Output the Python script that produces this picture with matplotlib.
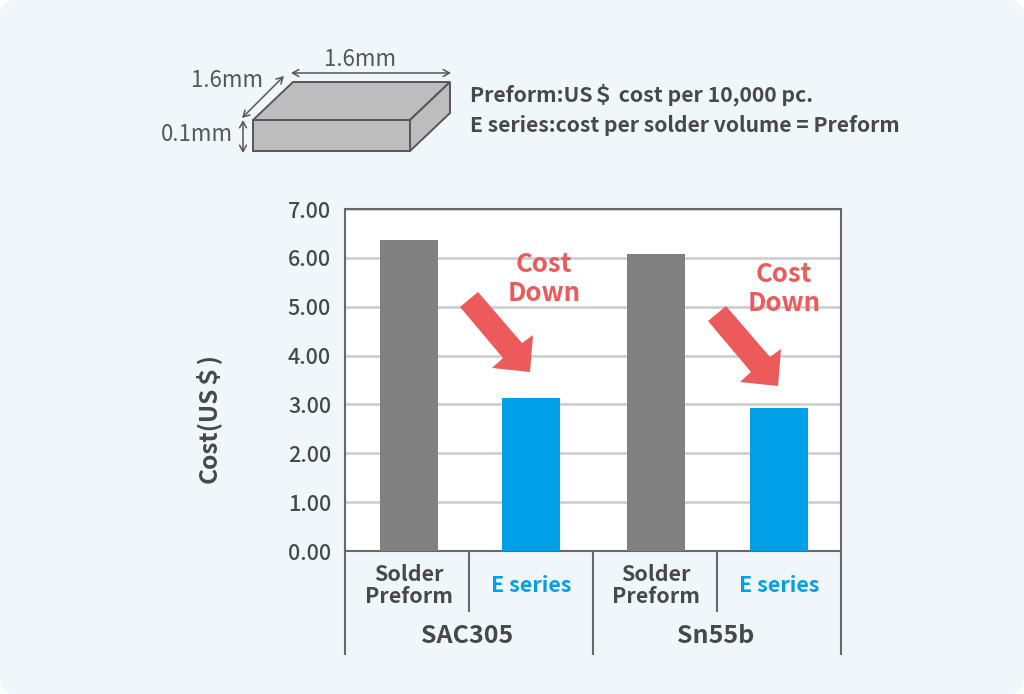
import numpy as np
import matplotlib
matplotlib.use('Agg')
import matplotlib.pyplot as plt
from matplotlib.patches import FancyBboxPatch, Polygon

plt.rcParams['font.family'] = ['Noto Sans CJK JP', 'DejaVu Sans']

# values
categories = ['Solder\nPreform', 'E series', 'Solder\nPreform', 'E series']
groups = ['SAC305', 'Sn55b']
costs = [6.36, 3.13, 6.07, 2.92]
bar_pos = [0.515, 1.5, 2.505, 3.5]
yticks = [0, 1, 2, 3, 4, 5, 6, 7]

GREY = '#808080'
BLUE = '#009fe8'
RED = '#ec5a5c'
TEXT = '#45494d'
LINE = '#66696c'
W, H = 1024, 694

fig = plt.figure(figsize=(W / 100, H / 100), dpi=100, facecolor='white')

# pixel coordinate layer for the background, block drawing and labels
bg = fig.add_axes([0, 0, 1, 1], zorder=0)
bg.set_xlim(0, W)
bg.set_ylim(H, 0)
bg.axis('off')
bg.add_patch(FancyBboxPatch((0, 0), W, H, boxstyle='round,pad=0,rounding_size=16',
                            fc='#f1f6fa', ec='none'))

# the block
bg.add_patch(Polygon([(253, 120), (293, 82), (450, 82), (410, 120)], fc='#bdbdbd', ec='#55585a', lw=1.4))
bg.add_patch(Polygon([(410, 120), (450, 82), (450, 113), (410, 151)], fc='#bdbdbd', ec='#55585a', lw=1.4))
bg.add_patch(Polygon([(253, 120), (410, 120), (410, 151), (253, 151)], fc='#bdbdbd', ec='#55585a', lw=1.4))
for p0, p1 in [((291, 73), (451, 73)), ((242, 118), (284, 76)), ((243, 120), (243, 153))]:
    bg.annotate('', xy=p1, xytext=p0,
                arrowprops=dict(arrowstyle='<->,head_length=0.45,head_width=0.25', color='#55585a',
                                lw=1.1, shrinkA=0, shrinkB=0))
bg.text(360, 59, '1.6mm', ha='center', va='center', fontsize=16, color='#55585a')
bg.text(227, 80, '1.6mm', ha='center', va='center', fontsize=16, color='#55585a')
bg.text(197, 134, '0.1mm', ha='center', va='center', fontsize=16, color='#55585a')
bg.text(470, 95, 'Preform:US＄ cost per 10,000 pc.', ha='left', va='center', fontsize=15.3,
        color=TEXT, fontweight='bold')
bg.text(470, 125, 'E series:cost per solder volume = Preform', ha='left', va='center', fontsize=15.2,
        color=TEXT, fontweight='bold')

# the chart
ax = fig.add_axes([345 / W, 1 - 551 / H, (841 - 345) / W, (551 - 209) / H], zorder=1)
ax.set_facecolor('white')
ax.bar(bar_pos, costs, width=0.468, color=[GREY, BLUE, GREY, BLUE], zorder=3)
ax.set_xlim(0, 4)
ax.set_ylim(0, 7)
ax.set_yticks(yticks)
ax.set_yticklabels(['%.2f' % t for t in yticks], fontsize=15.5, color=TEXT, fontweight='medium')
ax.set_xticks([])
ax.tick_params(axis='y', length=0, pad=10)
ax.grid(axis='y', color='#cbcbcb', lw=1.8, zorder=1)
for s in ax.spines.values():
    s.set_color(LINE)
    s.set_linewidth(1.5)

bg.text(208, 418, 'Cost(US＄)', rotation=90, ha='center', va='center', fontsize=17.6,
        color=TEXT, fontweight='bold')

# category table under the axis
for xd in [345, 593, 841]:
    bg.plot([xd, xd], [551, 654], color=LINE, lw=1.5)
for xd in [469, 717]:
    bg.plot([xd, xd], [551, 611], color=LINE, lw=1.5)
for i, c in enumerate(categories):
    xp = 345 + 124 * (bar_pos[i])
    col = BLUE if c == 'E series' else TEXT
    bg.text(xp, 585.5, c, ha='center', va='center', fontsize=15.4, color=col, fontweight='bold',
            linespacing=1.1)
for i, g in enumerate(groups):
    bg.text(467 + 249 * i, 636, g, ha='center', va='center', fontsize=18, color=TEXT, fontweight='bold')

# cost down arrows and labels on a layer above the chart
top = fig.add_axes([0, 0, 1, 1], zorder=2)
top.set_xlim(0, W)
top.set_ylim(H, 0)
top.axis('off')
arrow = np.array([(460, 307), (478, 292), (522, 343), (533, 335), (530, 372), (492, 368), (503, 358)])
for dx, dy, tx, ty in [(0, 0, 544, 279), (248, 14, 784, 289)]:
    top.add_patch(Polygon(arrow + [dx, dy], fc=RED, ec='none'))
    top.text(tx, ty, 'Cost\nDown', ha='center', va='center', fontsize=18.5, color=RED,
             fontweight='bold', linespacing=1.13)

fig.savefig('out.png', dpi=100, facecolor='white')
